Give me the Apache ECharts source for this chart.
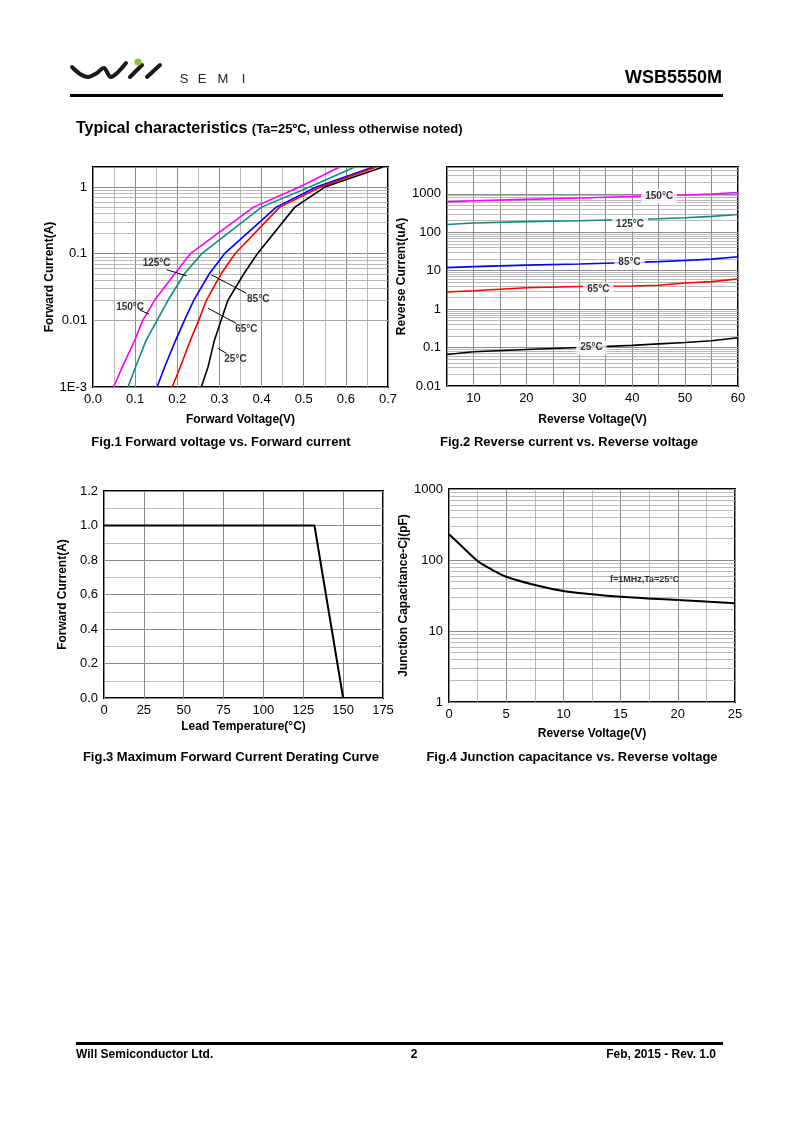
<!DOCTYPE html>
<html><head><meta charset="utf-8">
<script src="https://cdn.jsdelivr.net/npm/echarts@6/dist/echarts.min.js"></script>
<style>html,body{margin:0;padding:0;background:#fff}#c{width:800px;height:1131px}</style>
</head><body><div id="c"></div>
<script>
// ---------- Fig.1 Forward voltage vs forward current ----------
const fwdCurrent = [0.001, 0.002, 0.005, 0.01, 0.02, 0.05, 0.1, 0.5, 1, 2];
const fwdV150 = [0.049, 0.0695, 0.099, 0.118, 0.146, 0.194, 0.231, 0.381, 0.49, 0.585];
const fwdV125 = [0.083, 0.101, 0.126, 0.152, 0.178, 0.217, 0.258, 0.40, 0.514, 0.621];
const fwdV85  = [0.152, 0.170, 0.196, 0.217, 0.239, 0.276, 0.312, 0.435, 0.530, 0.665];
const fwdV65  = [0.188, 0.207, 0.231, 0.251, 0.269, 0.304, 0.337, 0.443, 0.540, 0.672];
const fwdV25  = [0.257, 0.273, 0.288, 0.304, 0.320, 0.358, 0.390, 0.479, 0.550, 0.688];
const fwdLabels = ['150°C', '125°C', '85°C', '65°C', '25°C'];
// label text anchor [V, I] and leader line [V1, I1, V2, I2]
const fwdLabelPos = [[0.088, 0.016], [0.151, 0.0707], [0.392, 0.0207], [0.364, 0.00731], [0.338, 0.00264]];
const fwdLeaders = [[0.111, 0.0143, 0.133, 0.0124], [0.175, 0.0574, 0.222, 0.0466], [0.364, 0.0255, 0.281, 0.0482], [0.340, 0.00901, 0.273, 0.0152], [0.317, 0.00318, 0.297, 0.00378]];

// ---------- Fig.2 Reverse current vs reverse voltage ----------
const revVoltage = [5, 10, 20, 30, 40, 45, 50, 55, 60];
const revI150 = [620, 660, 720, 780, 850, 890, 930, 990, 1080];
const revI125 = [160, 175, 190, 200, 215, 225, 240, 260, 290];
const revI85  = [12, 12.8, 14, 15, 16.3, 17.2, 18.5, 20, 23];
const revI65  = [2.8, 3.0, 3.6, 3.9, 4.0, 4.2, 4.8, 5.2, 6.1];
const revI25  = [0.066, 0.078, 0.089, 0.10, 0.114, 0.125, 0.136, 0.15, 0.18];
const revLabels = ['150°C', '125°C', '85°C', '65°C', '25°C'];
const revLabelPos = [[45.1, 870], [39.6, 160], [39.5, 16.2], [33.6, 3.2], [32.3, 0.1]];

// ---------- Fig.3 Derating ----------
const leadTemp = [0, 132, 150];
const derateCurrent = [1.0, 1.0, 0.0];

// ---------- Fig.4 Junction capacitance ----------
const capVoltage = [0, 1, 2.5, 3.7, 5, 7.5, 10, 12.5, 15, 20, 25];
const capValue = [230, 163, 97, 74, 58, 44.5, 36.6, 32.9, 30.4, 27.3, 24.6];
const capNote = 'f=1MHz,Ta=25°C';
const capNotePos = [17.1, 53.5];

const colors = { c150: '#ff00ff', c125: '#118a80', c85: '#0000ff', c65: '#ff0000', c25: '#000000' };
const FONT = 'Liberation Sans, Arial, sans-serif';

function zipXY(xs, ys) { return xs.map((x, i) => [x, ys[i]]); }
function zipYX(ys, xs) { return xs.map((x, i) => [x, ys[i]]); }
function logMinor(minV, maxV) {
  const out = [];
  for (let e = -4; e < 5; e++) for (let k = 2; k <= 9; k++) {
    const v = +(k * Math.pow(10, e)).toPrecision(3);
    if (v > minV * 1.0001 && v < maxV * 0.9999) out.push(v);
  }
  return out;
}
function logLabel(v) {
  const l = Math.log10(v);
  if (Math.abs(l - Math.round(l)) > 1e-6) return '';
  const r = Math.round(l);
  if (r <= -3) return '1E' + r;
  if (r < 0) return (Math.pow(10, r)).toFixed(-r);
  return String(Math.pow(10, r));
}

const gridLine = { show: true, lineStyle: { color: '#8a8a8a', width: 1 } };
const minorLine = { show: true, lineStyle: { color: '#a8a8a8', width: 0.8 } };
const axLabel = { color: '#000', fontSize: 13, fontFamily: FONT, margin: 6 };
const nameStyle = { color: '#000', fontSize: 12, fontWeight: 'bold', fontFamily: FONT };

function valAxis(gi, min, max, interval, fmt, name, gap, minorSplit) {
  return {
    type: 'value', gridIndex: gi, min, max, interval,
    axisLine: { show: false }, axisTick: { show: false },
    axisLabel: Object.assign({}, axLabel, { formatter: fmt }),
    splitLine: gridLine,
    minorTick: { show: false, splitNumber: minorSplit || 5 },
    minorSplitLine: Object.assign({}, minorLine, { show: !!minorSplit }),
    name, nameLocation: 'middle', nameGap: gap, nameTextStyle: nameStyle
  };
}
function logAxis(gi, min, max, name, gap) {
  return {
    type: 'log', logBase: 10, gridIndex: gi, min, max,
    axisLine: { show: false }, axisTick: { show: false },
    axisLabel: Object.assign({}, axLabel, { formatter: logLabel }),
    splitLine: gridLine,
    name, nameLocation: 'middle', nameGap: gap, nameTextStyle: nameStyle
  };
}
function minorGridSeries(gi, x0, minV, maxV) {
  return {
    type: 'line', xAxisIndex: gi, yAxisIndex: gi, data: [[x0, minV]], showSymbol: false,
    lineStyle: { opacity: 0 }, silent: true, z: 1,
    markLine: {
      silent: true, z: 1, symbol: ['none', 'none'], label: { show: false },
      lineStyle: { color: '#a8a8a8', width: 0.8, type: 'solid' },
      emphasis: { disabled: true },
      data: logMinor(minV, maxV).map(v => ({ yAxis: v }))
    }
  };
}
function curve(gi, data, color, smooth, width) {
  return { type: 'line', xAxisIndex: gi, yAxisIndex: gi, data, showSymbol: false, smooth: smooth || false,
    lineStyle: { color, width: width || 1.6 }, z: 6, silent: true };
}

const series = [];
// grid 0
series.push(minorGridSeries(0, 0, 0.001, 2));
series.push(curve(0, zipYX(fwdCurrent, fwdV150), colors.c150));
series.push(curve(0, zipYX(fwdCurrent, fwdV125), colors.c125));
series.push(curve(0, zipYX(fwdCurrent, fwdV85), colors.c85));
series.push(curve(0, zipYX(fwdCurrent, fwdV65), colors.c65));
series.push(curve(0, zipYX(fwdCurrent, fwdV25), colors.c25));
fwdLeaders.forEach(l => series.push({ type: 'line', xAxisIndex: 0, yAxisIndex: 0, data: [[l[0], l[1]], [l[2], l[3]]],
  showSymbol: false, lineStyle: { color: '#000', width: 1 }, z: 7, silent: true }));
series.push({ type: 'scatter', xAxisIndex: 0, yAxisIndex: 0, symbolSize: 1, itemStyle: { color: 'transparent' }, z: 8, silent: true,
  data: fwdLabels.map((t, i) => ({ name: t, value: fwdLabelPos[i] })),
  label: { show: true, position: 'inside', formatter: p => p.name, color: '#000', fontSize: 10, fontWeight: 'bold', fontFamily: FONT } });
// grid 1
series.push(minorGridSeries(1, 5, 0.01, 5000));
series.push(curve(1, zipXY(revVoltage, revI150), colors.c150));
series.push(curve(1, zipXY(revVoltage, revI125), colors.c125));
series.push(curve(1, zipXY(revVoltage, revI85), colors.c85));
series.push(curve(1, zipXY(revVoltage, revI65), colors.c65));
series.push(curve(1, zipXY(revVoltage, revI25), colors.c25));
series.push({ type: 'scatter', xAxisIndex: 1, yAxisIndex: 1, symbolSize: 1, itemStyle: { color: 'transparent' }, z: 8, silent: true,
  data: revLabels.map((t, i) => ({ name: t, value: revLabelPos[i] })),
  label: { show: true, position: 'inside', formatter: p => p.name, color: '#000', fontSize: 10, fontWeight: 'bold', fontFamily: FONT,
    backgroundColor: '#fff', padding: [2, 4] } });
// grid 2
series.push(curve(2, zipXY(leadTemp, derateCurrent), '#000', false, 2));
// grid 3
series.push(minorGridSeries(3, 0, 1, 1000));
series.push(curve(3, zipXY(capVoltage, capValue), '#000', 0.4, 2));
series.push({ type: 'scatter', xAxisIndex: 3, yAxisIndex: 3, symbolSize: 1, itemStyle: { color: 'transparent' }, z: 8, silent: true,
  data: [{ name: capNote, value: capNotePos }],
  label: { show: true, position: 'inside', formatter: p => p.name, color: '#000', fontSize: 9, fontWeight: 'bold', fontFamily: FONT } });

const gridBase = { show: true, borderColor: '#000', borderWidth: 2, backgroundColor: '#fff', containLabel: false };

const txt = (x, y, text, size, opts) => ({ type: 'text', x, y, silent: true,
  style: Object.assign({ text, fill: '#000', font: (opts && opts.weight || 'bold') + ' ' + size + 'px ' + FONT,
    textAlign: (opts && opts.align) || 'left', textVerticalAlign: 'middle' }, (opts && opts.style) || {}) });

const graphic = [
  // logo
  { type: 'polyline', silent: true, shape: { points: [[72, 67], [80, 74], [88, 77], [97, 73], [104, 68], [111, 77], [126, 63]], smooth: 0.35 },
    style: { stroke: '#1a1a1a', lineWidth: 4, fill: null, lineCap: 'round', lineJoin: 'round' } },
  { type: 'line', silent: true, shape: { x1: 130, y1: 77, x2: 142, y2: 65 }, style: { stroke: '#1a1a1a', lineWidth: 4, lineCap: 'round' } },
  { type: 'line', silent: true, shape: { x1: 147, y1: 77, x2: 160, y2: 65 }, style: { stroke: '#1a1a1a', lineWidth: 4, lineCap: 'round' } },
  { type: 'circle', silent: true, shape: { cx: 138, cy: 62, r: 3.6 }, style: { fill: '#8cc63f' } },
  txt(184, 79, 'S', 13, { weight: 'normal', align: 'center', style: { fill: '#222' } }),
  txt(202, 79, 'E', 13, { weight: 'normal', align: 'center', style: { fill: '#222' } }),
  txt(223, 79, 'M', 13, { weight: 'normal', align: 'center', style: { fill: '#222' } }),
  txt(243.5, 79, 'I', 13, { weight: 'normal', align: 'center', style: { fill: '#222' } }),
  txt(722, 78, 'WSB5550M', 18, { align: 'right' }),
  { type: 'rect', silent: true, shape: { x: 70, y: 94, width: 653, height: 3 }, style: { fill: '#000' } },
  // title
  { type: 'text', x: 76, y: 129, silent: true, style: {
      text: '{a|Typical characteristics }{b|(Ta=25ºC, unless otherwise noted)}',
      textVerticalAlign: 'middle', fill: '#000',
      rich: { a: { fontSize: 16, fontWeight: 'bold', fontFamily: FONT, fill: '#000' },
              b: { fontSize: 13, fontWeight: 'bold', fontFamily: FONT, fill: '#000' } } } },
  // captions
  txt(221, 442, 'Fig.1 Forward voltage vs. Forward current', 13, { align: 'center' }),
  txt(569, 442, 'Fig.2 Reverse current vs. Reverse voltage', 13, { align: 'center' }),
  txt(231, 757, 'Fig.3 Maximum Forward Current Derating Curve', 13, { align: 'center' }),
  txt(572, 757, 'Fig.4 Junction capacitance vs. Reverse voltage', 13, { align: 'center' }),
  // footer
  { type: 'rect', silent: true, shape: { x: 76, y: 1042, width: 647, height: 3 }, style: { fill: '#000' } },
  txt(76, 1055, 'Will Semiconductor Ltd.', 12),
  txt(414, 1055, '2', 12, { align: 'center' }),
  txt(716, 1055, 'Feb, 2015 - Rev. 1.0', 12, { align: 'right' })
];

const option = {
  animation: false,
  backgroundColor: '#fff',
  textStyle: { fontFamily: FONT },
  grid: [
    Object.assign({ left: 93, top: 167, width: 295, height: 220 }, gridBase),
    Object.assign({ left: 447, top: 167, width: 291, height: 219 }, gridBase),
    Object.assign({ left: 104, top: 491, width: 279, height: 207 }, gridBase),
    Object.assign({ left: 449, top: 489, width: 286, height: 213 }, gridBase)
  ],
  xAxis: [
    valAxis(0, 0, 0.7, 0.1, v => v.toFixed(1), 'Forward Voltage(V)', 27, 2),
    valAxis(1, 5, 60, 5, v => (Math.round(v) % 10 === 0 ? String(Math.round(v)) : ''), 'Reverse Voltage(V)', 28),
    valAxis(2, 0, 175, 25, v => String(v), 'Lead Temperature(°C)', 23),
    valAxis(3, 0, 25, 5, v => String(v), 'Reverse Voltage(V)', 26, 2)
  ],
  yAxis: [
    logAxis(0, 0.001, 2, 'Forward Current(A)', 37),
    logAxis(1, 0.01, 5000, 'Reverse Current(uA)', 39),
    valAxis(2, 0, 1.2, 0.2, v => v.toFixed(1), 'Forward Current(A)', 35, 2),
    logAxis(3, 1, 1000, 'Junction Capacitance-Cj(pF)', 28)
  ],
  series,
  graphic
};
const chart = echarts.init(document.getElementById('c'));
chart.setOption(option);
</script>
</body></html>
